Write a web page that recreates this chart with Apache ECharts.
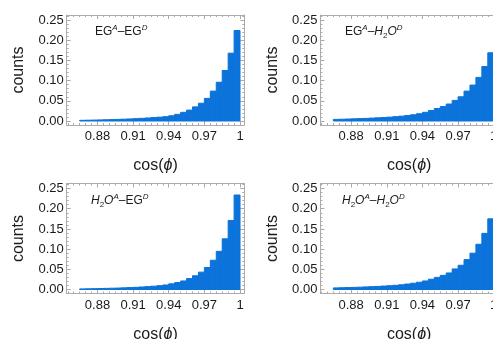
<!DOCTYPE html>
<html>
<head>
<meta charset="utf-8">
<script src="https://cdn.jsdelivr.net/npm/echarts@6/dist/echarts.min.js"></script>
<style>
  html, body { margin: 0; padding: 0; background: #fff; }
  #chart { width: 493px; height: 339px; }
</style>
</head>
<body>
<div id="chart"></div>
<script>
// histogram bin edges (cos phi)
const binEdges = [0.865, 0.870, 0.875, 0.880, 0.885, 0.890, 0.895, 0.900, 0.905, 0.910,
  0.915, 0.920, 0.925, 0.930, 0.935, 0.940, 0.945, 0.950, 0.955, 0.960,
  0.965, 0.970, 0.975, 0.980, 0.985, 0.990, 0.995, 1.000];

// counts per bin
const egEg = [0.0017, 0.0020, 0.0023, 0.0027, 0.0031, 0.0035, 0.0040, 0.0045, 0.0051, 0.0058,
  0.0066, 0.0075, 0.0085, 0.0095, 0.0107, 0.0130, 0.0165, 0.0215, 0.0270, 0.0350,
  0.0440, 0.0560, 0.0740, 0.0960, 0.1250, 0.1680, 0.2240];
const egH2o = [0.0040, 0.0044, 0.0049, 0.0054, 0.0059, 0.0065, 0.0072, 0.0079, 0.0087, 0.0096,
  0.0107, 0.0120, 0.0135, 0.0155, 0.0180, 0.0215, 0.0260, 0.0310, 0.0360, 0.0420,
  0.0510, 0.0600, 0.0740, 0.0890, 0.1080, 0.1350, 0.1690];
const h2oEg = [0.0015, 0.0018, 0.0021, 0.0024, 0.0028, 0.0032, 0.0036, 0.0041, 0.0047, 0.0054,
  0.0062, 0.0071, 0.0082, 0.0095, 0.0112, 0.0140, 0.0172, 0.0212, 0.0270, 0.0340,
  0.0430, 0.0545, 0.0725, 0.0945, 0.1255, 0.1710, 0.2340];
const h2oH2o = [0.0040, 0.0044, 0.0048, 0.0053, 0.0058, 0.0064, 0.0070, 0.0077, 0.0085, 0.0094,
  0.0104, 0.0117, 0.0135, 0.0156, 0.0180, 0.0212, 0.0255, 0.0300, 0.0350, 0.0410,
  0.0510, 0.0600, 0.0740, 0.0900, 0.1120, 0.1390, 0.1750];

const xTicks = [0.88, 0.91, 0.94, 0.97, 1];
const yTicks = [0, 0.05, 0.10, 0.15, 0.20, 0.25];

const X_RANGE = [0.8541, 1.0036];
const Y_RANGE = [-0.0099, 0.2625];
const BAR_COLOR = '#0b73da';
const FRAME = '#ababab';
const TEXT = '#1a1a1a';
const FONT = '"Liberation Sans", Arial, sans-serif';

// minor frame ticks
const xMinor = [];
for (let k = 171; k <= 200; k++) xMinor.push(+(k * 0.005).toFixed(3));
const yMinor = [];
for (let k = 0; k <= 26; k++) yMinor.push(+(k * 0.01).toFixed(2));

const panels = [
  { values: egEg, left: 66.7, top: 15, label: '{n|EG}{sup|A}{n|–EG}{sup|D}', labelPos: [95, 24] },
  { values: egH2o, left: 320.4, top: 15, label: '{n|EG}{sup|A}{n|–}{i|H}{sub|2}{i|O}{sup|D}', labelPos: [345, 24] },
  { values: h2oEg, left: 66.7, top: 183.5, label: '{i|H}{sub|2}{i|O}{sup|A}{n|–EG}{sup|D}', labelPos: [91, 193] },
  { values: h2oH2o, left: 320.4, top: 183.5, label: '{i|H}{sub|2}{i|O}{sup|A}{n|–}{i|H}{sub|2}{i|O}{sup|D}', labelPos: [342, 193] }
];

const labelRich = {
  n: { fontSize: 12, fontFamily: FONT, fontWeight: 'normal', color: TEXT, lineHeight: 16 },
  i: { fontSize: 12, fontFamily: FONT, fontWeight: 'normal', fontStyle: 'italic', color: TEXT, lineHeight: 16 },
  sup: { fontSize: 8, fontFamily: FONT, fontWeight: 'normal', fontStyle: 'italic', color: TEXT, lineHeight: 16, verticalAlign: 'top' },
  sub: { fontSize: 8, fontFamily: FONT, fontWeight: 'normal', color: TEXT, lineHeight: 16, verticalAlign: 'bottom' }
};

const grid = [], xAxis = [], yAxis = [], series = [], title = [];

function tickAxis(base, ticks, len, showLine) {
  return Object.assign({
    type: 'value',
    axisLine: { show: showLine, onZero: false, lineStyle: { color: FRAME, width: 1 } },
    axisTick: { show: true, inside: true, length: len, customValues: ticks, lineStyle: { color: FRAME } },
    axisLabel: { show: false },
    splitLine: { show: false }
  }, base);
}

panels.forEach((p, g) => {
  grid.push({ left: p.left, top: p.top, width: 177.6, height: 110, outerBoundsMode: 'none', containLabel: false });

  const xBase = { gridIndex: g, min: X_RANGE[0], max: X_RANGE[1] };
  const yBase = { gridIndex: g, min: Y_RANGE[0], max: Y_RANGE[1] };

  const xMain = tickAxis(Object.assign({ position: 'bottom' }, xBase), xTicks, 4, true);
  xMain.axisLabel = {
    show: true, customValues: xTicks, margin: 5, fontSize: 13, fontFamily: FONT, color: TEXT,
    formatter: v => (v === 1 ? '1' : v.toFixed(2))
  };
  xMain.name = '{n|cos(}{i|ϕ}{n|)}';
  xMain.nameLocation = 'middle';
  xMain.nameGap = 33;
  xMain.nameTextStyle = {
    rich: {
      n: { fontSize: 16, fontFamily: FONT, color: TEXT },
      i: { fontSize: 16, fontFamily: FONT, fontStyle: 'italic', color: TEXT }
    }
  };
  const xIdx = xAxis.length;
  xAxis.push(xMain);
  xAxis.push(tickAxis(Object.assign({ position: 'bottom' }, xBase), xMinor, 2, false));
  xAxis.push(tickAxis(Object.assign({ position: 'top' }, xBase), xTicks, 4, true));
  xAxis.push(tickAxis(Object.assign({ position: 'top' }, xBase), xMinor, 2, false));

  const yMain = tickAxis(Object.assign({ position: 'left' }, yBase), yTicks, 4, true);
  yMain.axisLabel = {
    show: true, customValues: yTicks, margin: 3, fontSize: 13, fontFamily: FONT, color: TEXT,
    formatter: v => v.toFixed(2)
  };
  yMain.name = 'counts';
  yMain.nameLocation = 'middle';
  yMain.nameGap = 40;
  yMain.nameTextStyle = { fontSize: 16, fontFamily: FONT, color: TEXT };
  const yIdx = yAxis.length;
  yAxis.push(yMain);
  yAxis.push(tickAxis(Object.assign({ position: 'left' }, yBase), yMinor, 2, false));
  yAxis.push(tickAxis(Object.assign({ position: 'right' }, yBase), yTicks, 4, true));
  yAxis.push(tickAxis(Object.assign({ position: 'right' }, yBase), yMinor, 2, false));

  series.push({
    type: 'custom',
    xAxisIndex: xIdx,
    yAxisIndex: yIdx,
    clip: true,
    encode: { x: [0, 1], y: 2 },
    data: p.values.map((v, i) => [binEdges[i], binEdges[i + 1], v]),
    renderItem: (params, api) => {
      const a = api.coord([api.value(0), api.value(2)]);
      const b = api.coord([api.value(1), 0]);
      return {
        type: 'rect',
        shape: { x: a[0], y: a[1], width: b[0] - a[0], height: b[1] - a[1] },
        style: { fill: BAR_COLOR, stroke: BAR_COLOR, lineWidth: 1 }
      };
    }
  });

  title.push({
    text: p.label,
    left: p.labelPos[0],
    top: p.labelPos[1],
    padding: 0,
    textStyle: { fontWeight: 'normal', rich: labelRich }
  });
});

const chart = echarts.init(document.getElementById('chart'), null, { renderer: 'canvas' });
chart.setOption({
  animation: false,
  backgroundColor: '#fff',
  title, grid, xAxis, yAxis, series
});
</script>
</body>
</html>
